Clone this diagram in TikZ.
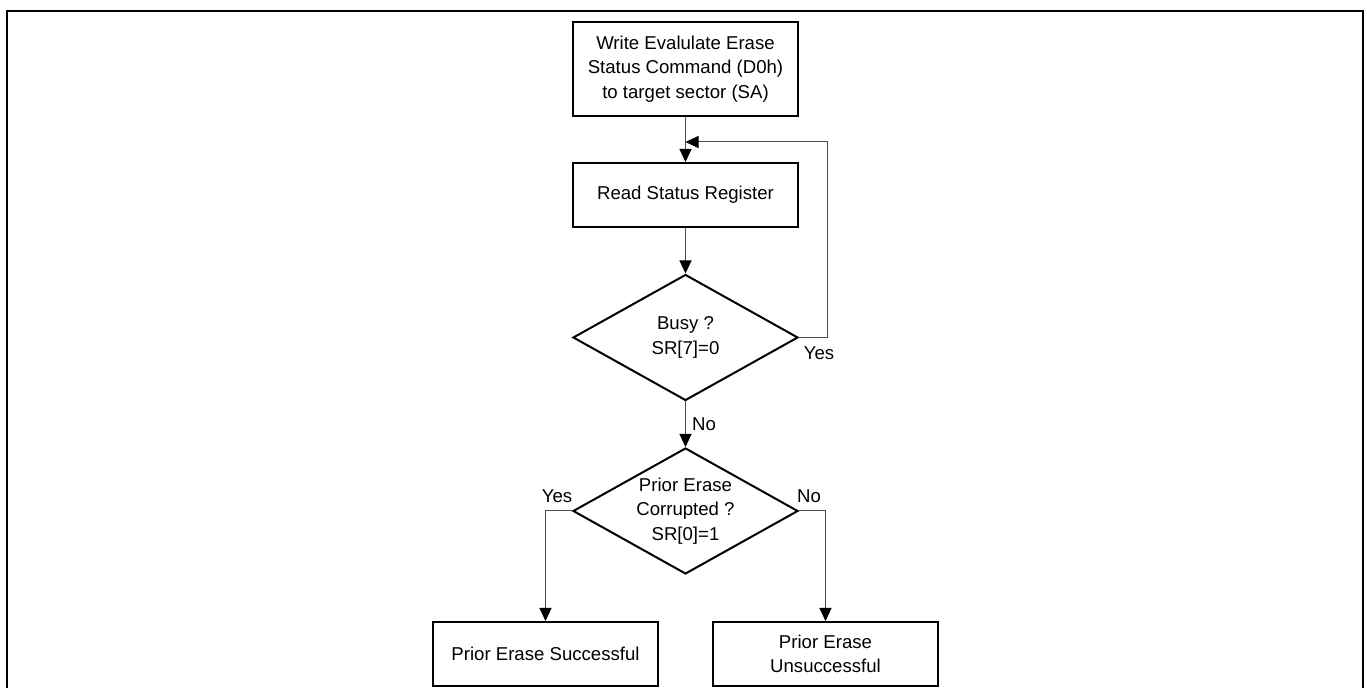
\documentclass[tikz,border=0pt]{standalone}
\usepackage{fontspec}
\setmainfont{Liberation Sans}
\usepackage{tikz}
\usetikzlibrary{shapes.geometric,arrows.meta}

\begin{document}
\begin{tikzpicture}[x=0.5pt,y=-0.5pt,
  every node/.style={font=\fontsize{9.3}{12.3}\selectfont,align=center,inner sep=0},
  procbox/.style={draw,line width=1pt,rectangle,minimum width=112.5pt,minimum height=32pt},
  decision/.style={draw,line width=1pt,diamond,minimum width=112.5pt,minimum height=63pt},
  flow/.style={black!70,line width=0.5pt,-{Triangle[length=6.5pt,width=6pt,black]}},
  lbl/.style={font=\fontsize{9.3}{12.3}\selectfont}]

\useasboundingbox (0,0) rectangle (1367,688);

% outer frame, open at the bottom
\draw [line width=1pt] (7,688) -- (7,11) -- (1363,11) -- (1363,688);

\node [procbox,minimum height=47pt] (cmd) at (685.5,69) {Write Evalulate Erase\\Status Command (D0h)\\to target sector (SA)};
\node [procbox] (readsr) at (685.5,195) {Read Status Register};
\node [decision] (busy) at (685.5,337.5) {};
\node (busytxt) at (busy) {Busy ?\\SR[7]=0};
\node [decision] (corrupt) at (685.5,511) {};
\node (corrupttxt) at (corrupt) {Prior Erase\\Corrupted ?\\SR[0]=1};
\node [procbox] (ok) at (545.5,654) {Prior Erase Successful};
\node [procbox] (fail) at (825.5,654) {Prior Erase\\Unsuccessful};

\coordinate (join) at (685.5,142);

\draw [flow] (cmd) -- (readsr);
\draw [flow] (readsr) -- (busy);
\draw [flow] (busy.east) -- ++(28,0) |- (join);
\draw [flow] (busy) -- (corrupt);
\draw [flow] (corrupt.west) -| (ok);
\draw [flow] (corrupt.east) -| (fail);

\node [lbl] (yesbusy) at (819,353) {Yes};
\node [lbl] (nobusy) at (704,424) {No};
\node [lbl] (yesok) at (557,496) {Yes};
\node [lbl] (nofail) at (809,496) {No};

\end{tikzpicture}
\end{document}
